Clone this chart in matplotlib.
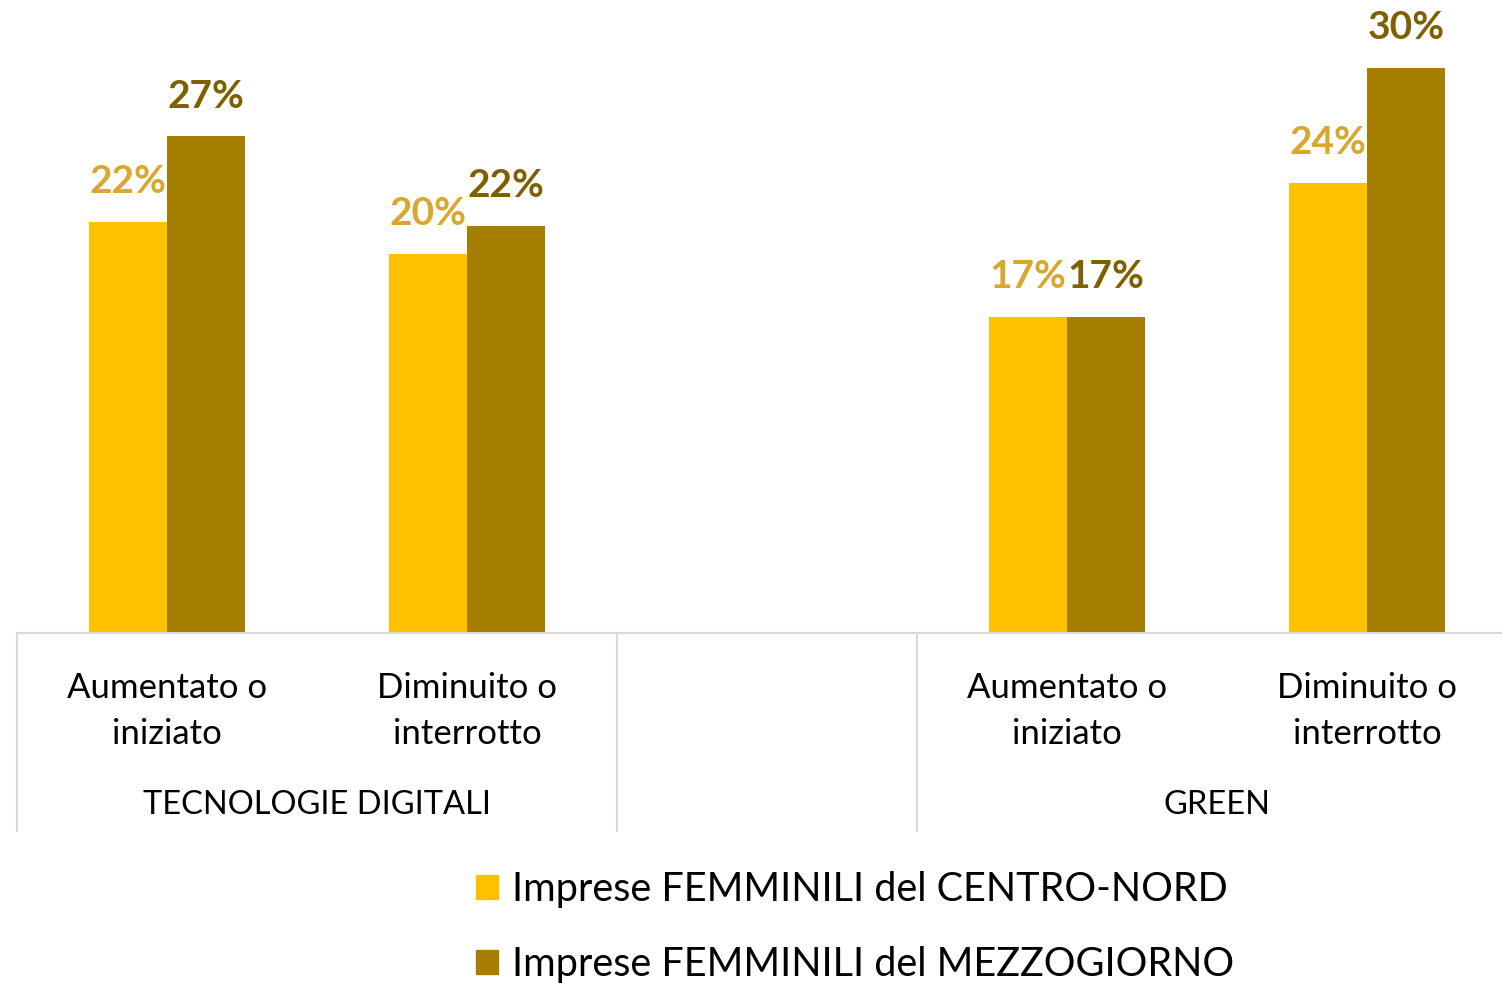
import numpy as np
import matplotlib.pyplot as plt
from matplotlib.patches import Patch

plt.rcParams['font.family'] = ['Lato', 'DejaVu Sans']

# five slots on the x axis, the middle one is an empty gap
categorie = ['Aumentato o\niniziato', 'Diminuito o\ninterrotto', '',
             'Aumentato o\niniziato', 'Diminuito o\ninterrotto']
gruppi = ['TECNOLOGIE DIGITALI', 'GREEN']
centro_nord = [0.221, 0.204, np.nan, 0.170, 0.242]
mezzogiorno = [0.267, 0.219, np.nan, 0.170, 0.304]
serie = ['Imprese FEMMINILI del CENTRO-NORD', 'Imprese FEMMINILI del MEZZOGIORNO']

giallo = '#FFC000'
oro = '#A67F00'
lab_giallo = '#D9A62E'
lab_oro = '#7F6000'

W, H = 1502, 983
scala = 1860  # pixels per unit on the y axis
fig = plt.figure(figsize=(W / 100, H / 100), dpi=100)
ax = fig.add_axes([17 / W, 350 / H, 1500 / W, 633 / H])

x = np.arange(len(categorie))
w = 0.26
b1 = ax.bar(x - w / 2, centro_nord, w, color=giallo)
b2 = ax.bar(x + w / 2, mezzogiorno, w, color=oro)

for bars, vals, col in [(b1, centro_nord, lab_giallo), (b2, mezzogiorno, lab_oro)]:
    for r, v in zip(bars, vals):
        if np.isnan(v):
            continue
        ax.annotate(f'{v:.0%}', (r.get_x() + r.get_width() / 2, v),
                    xytext=(0, 29), textcoords='offset points',
                    ha='center', va='center', fontsize=28, fontweight='bold', color=col)

ax.set_xlim(-0.5, 4.5)
ax.set_ylim(0, 633 / scala)
for s in ['top', 'right', 'left']:
    ax.spines[s].set_visible(False)
ax.spines['bottom'].set_color('#d9d9d9')
ax.spines['bottom'].set_linewidth(1.5)
ax.set_yticks([])
ax.set_xticks(x)
ax.set_xticklabels(categorie, fontsize=25, linespacing=1.55)
ax.tick_params(axis='x', length=0, pad=28)

# group separators and group labels below the axis
for xs in [-0.5, 1.5, 2.5, 4.5]:
    ax.plot([xs, xs], [0, -198 / scala], color='#d9d9d9', lw=1.5, clip_on=False)
for gx, g in zip([0.5, 3.5], gruppi):
    ax.text(gx, -172 / scala, g, ha='center', va='center', fontsize=23.5)

handles = [Patch(color=giallo), Patch(color=oro)]
fig.legend(handles, serie, loc='upper left', bbox_to_anchor=(476 / W, 1 - 871 / H),
           frameon=False, fontsize=28.5, handlelength=0.55, handleheight=0.55,
           handletextpad=0.35, labelspacing=0.95, borderpad=0, borderaxespad=0)

fig.savefig('out.png', dpi=100)
